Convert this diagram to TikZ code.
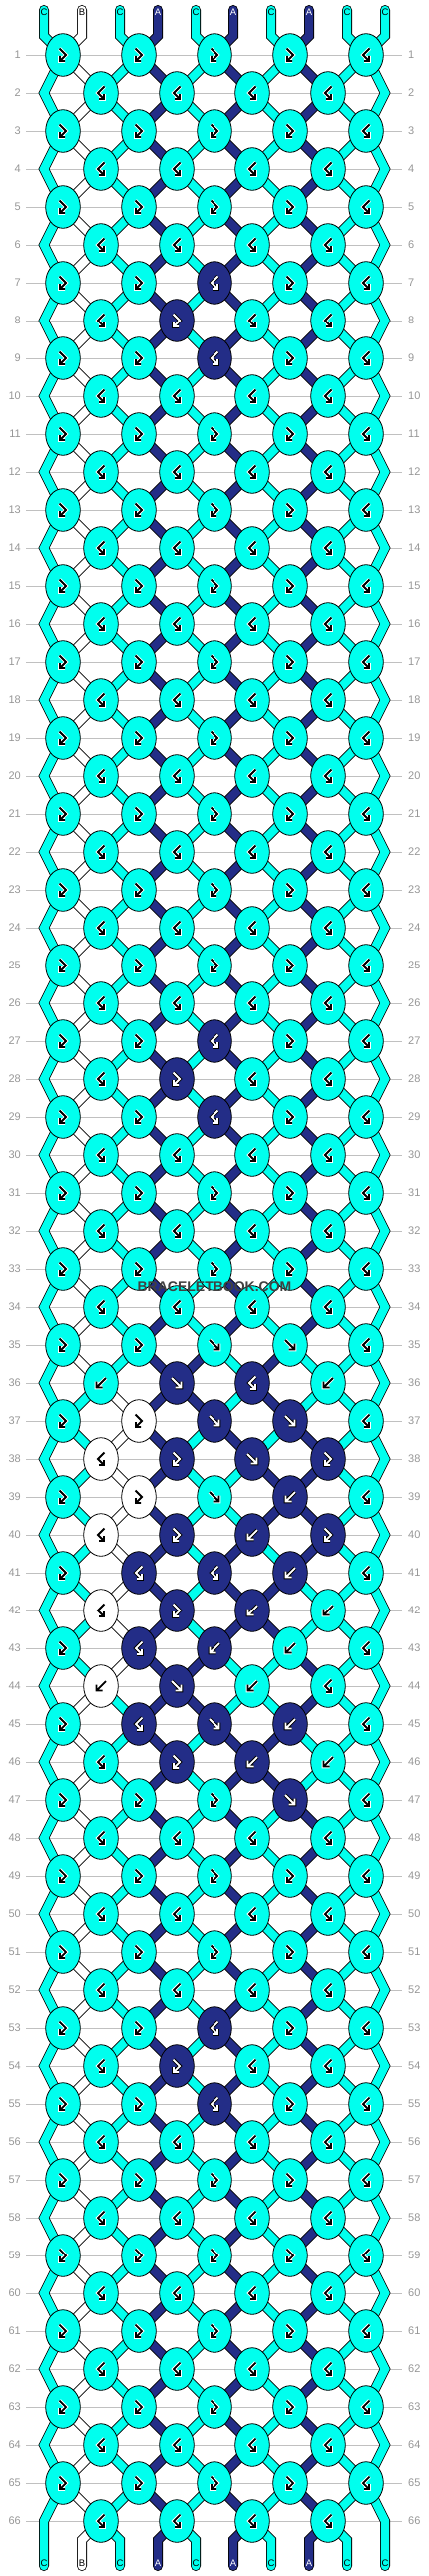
\documentclass[tikz,border=0pt]{standalone}
\usepackage{fontspec}
\setsansfont{Liberation Sans}
\usetikzlibrary{shapes.geometric}

\definecolor{colA}{RGB}{35,45,135}
\definecolor{colB}{RGB}{255,255,255}
\definecolor{colC}{RGB}{0,255,238}
\colorlet{inkA}{white}\colorlet{inkB}{black}\colorlet{inkC}{black}
\colorlet{rimA}{black}\colorlet{rimB}{white}\colorlet{rimC}{white}
\definecolor{rowgray}{RGB}{192,192,192}
\definecolor{numgray}{RGB}{150,150,150}

\pgfdeclarelayer{back}
\pgfdeclarelayer{mid}
\pgfsetlayers{back,mid,main}

% knot types: f forward, b backward, r forward-backward, l backward-forward
\newcommand\setrow[2]{\expandafter\def\csname spec#1\endcsname{#2}}
\setrow{7}{r,r,l,r,l}\setrow{8}{l,r,l,l}\setrow{9}{r,r,l,r,l}
\setrow{27}{r,r,l,r,l}\setrow{28}{l,r,l,l}\setrow{29}{r,r,l,r,l}
\setrow{35}{r,r,f,f,l}\setrow{36}{b,f,l,b}
\setrow{37}{r,r,f,f,l}\setrow{38}{l,r,f,r}
\setrow{39}{r,r,f,b,l}\setrow{40}{l,r,b,r}
\setrow{41}{r,l,l,b,l}\setrow{42}{l,r,b,b}
\setrow{43}{r,l,b,b,l}\setrow{44}{b,f,b,l}
\setrow{45}{r,l,f,b,l}\setrow{46}{l,r,b,b}
\setrow{47}{r,r,r,f,l}
\setrow{53}{r,r,l,r,l}\setrow{54}{l,r,l,l}\setrow{55}{r,r,l,r,l}

\def\glyphf{(-5,-5) -- (4.5,4.5) (4.5,-1.5) -- (4.5,4.5) -- (-1.5,4.5)}
\def\glyphb{(5,-5) -- (-4.5,4.5) (-4.5,-1.5) -- (-4.5,4.5) -- (1.5,4.5)}
\def\glyphr{(-3.5,-6.5) -- (3,0) -- (-3,6) (-3,1) -- (-3,6) -- (2,6)}
\def\glyphl{(3.5,-6.5) -- (-3,0) -- (3,6) (3,1) -- (3,6) -- (-2,6)}

\begin{document}
\begin{tikzpicture}[
  x=1pt, y=-1pt,
  knot/.style = {ellipse, draw, line width=0.8pt, minimum width=34.6pt,
                 minimum height=42.6pt, inner sep=0pt},
  strand/.style = {draw=black, line width=0.8pt, double=#1,
                   double distance=8.4pt, line cap=round},
  rowline/.style = {rowgray, line width=0.8pt},
  rownum/.style = {numgray, inner sep=0pt, font=\sffamily\fontsize{11}{11}\selectfont},
  endlabel/.style = {inner sep=0pt, font=\sffamily\fontsize{9.5}{9.5}\selectfont},
  glyphrim/.style = {line width=3.6pt},
  glyphink/.style = {line width=1.8pt}
]
\useasboundingbox (0,0) rectangle (430,2580);

% knotting, row by row
\foreach \c [count=\pos from 0] in {C,B,C,A,C,A,C,A,C,C}
  {\expandafter\xdef\csname st-0-\pos\endcsname{\c}}
\foreach \row in {1,...,66}{
  \pgfmathtruncatemacro\rp{\row-1}
  \foreach \pos in {0,...,9}
    {\expandafter\xdef\csname st-\row-\pos\endcsname{\csname st-\rp-\pos\endcsname}}
  \ifcsname spec\row\endcsname
    \edef\types{\csname spec\row\endcsname}
  \else\ifodd\row \def\types{r,r,r,r,l}\else \def\types{l,l,l,l}\fi\fi
  \ifodd\row \def\pfirst{0}\else \def\pfirst{1}\fi
  \foreach \ty [count=\kn from 0] in \types {
    \pgfmathtruncatemacro\pl{\pfirst+2*\kn}
    \pgfmathtruncatemacro\pq{\pl+1}
    \edef\colL{\csname st-\rp-\pl\endcsname}
    \edef\colR{\csname st-\rp-\pq\endcsname}
    \expandafter\xdef\csname kt-\row-\kn\endcsname{\ty}
    \if\ty f
      \expandafter\xdef\csname kc-\row-\kn\endcsname{\colL}
      \expandafter\xdef\csname st-\row-\pl\endcsname{\colR}
      \expandafter\xdef\csname st-\row-\pq\endcsname{\colL}
    \fi
    \if\ty b
      \expandafter\xdef\csname kc-\row-\kn\endcsname{\colR}
      \expandafter\xdef\csname st-\row-\pl\endcsname{\colR}
      \expandafter\xdef\csname st-\row-\pq\endcsname{\colL}
    \fi
    \if\ty r \expandafter\xdef\csname kc-\row-\kn\endcsname{\colL}\fi
    \if\ty l \expandafter\xdef\csname kc-\row-\kn\endcsname{\colR}\fi
  }
}

% rows
\begin{pgfonlayer}{back}
\foreach \row in {1,...,66}{
  \pgfmathsetmacro\yy{17+38*\row}
  \draw[rowline] (26,\yy) -- (403,\yy);
}
\end{pgfonlayer}
\foreach \row in {1,...,66}{
  \pgfmathsetmacro\yy{17+38*\row}
  \node[rownum, anchor=east] (nl-\row) at (21,\yy) {\row};
  \node[rownum, anchor=west] (nr-\row) at (409,\yy) {\row};
}

% knots
\foreach \row in {1,...,66}{
  \pgfmathsetmacro\yy{17+38*\row}
  \ifodd\row \def\nk{4}\def\xo{63}\else \def\nk{3}\def\xo{101}\fi
  \foreach \kn in {0,...,\nk}{
    \edef\kc{\csname kc-\row-\kn\endcsname}
    \edef\gpath{\csname glyph\csname kt-\row-\kn\endcsname\endcsname}
    \node[knot, fill=col\kc] (k-\row-\kn) at ({\xo+76*\kn},\yy) {};
    \draw[glyphrim, draw=rim\kc, shift={(k-\row-\kn.center)}] \gpath;
    \draw[glyphink, draw=ink\kc, shift={(k-\row-\kn.center)}] \gpath;
  }
}

% loose ends and edge bends
\foreach \pos in {0,...,9}{
  \coordinate (t-\pos) at (44+38*\pos,10);
  \coordinate (tb-\pos) at (44+38*\pos,36);
  \coordinate (b-\pos) at (44+38*\pos,2570);
  \coordinate (bb-\pos) at (44+38*\pos,2544);
}
\foreach \row in {2,4,...,66}{
  \coordinate (e-\row-L) at (44,17+38*\row);
  \coordinate (e-\row-R) at (386,17+38*\row);
}

\begin{pgfonlayer}{mid}
\foreach \pos in {0,...,9}{
  \pgfmathtruncatemacro\kn{\pos/2}
  \edef\sc{\csname st-0-\pos\endcsname}
  \draw[strand=col\sc] (t-\pos) -- (tb-\pos) -- (k-1-\kn.center);
}
\foreach \row in {1,3,...,65}{
  \pgfmathtruncatemacro\rn{\row+1}
  \pgfmathtruncatemacro\rnn{\row+2}
  \ifnum\row<65 \edef\nextL{k-\rnn-0.center}\edef\nextR{k-\rnn-4.center}
  \else \def\nextL{b-0}\def\nextR{b-9}\fi
  \edef\cl{\csname st-\row-0\endcsname}
  \draw[strand=col\cl] (k-\row-0.center) -- (e-\rn-L) -- (\nextL);
  \edef\cq{\csname st-\row-9\endcsname}
  \draw[strand=col\cq] (k-\row-4.center) -- (e-\rn-R) -- (\nextR);
  \foreach \kn in {1,...,4}{
    \pgfmathtruncatemacro\pl{2*\kn}
    \pgfmathtruncatemacro\kp{\kn-1}
    \edef\cl{\csname st-\row-\pl\endcsname}
    \draw[strand=col\cl] (k-\row-\kn.center) -- (k-\rn-\kp.center);
  }
  \foreach \kn in {0,...,3}{
    \pgfmathtruncatemacro\pq{2*\kn+1}
    \edef\cq{\csname st-\row-\pq\endcsname}
    \draw[strand=col\cq] (k-\row-\kn.center) -- (k-\rn-\kn.center);
  }
}
\foreach \row in {2,4,...,64}{
  \pgfmathtruncatemacro\rn{\row+1}
  \foreach \kn in {0,...,3}{
    \pgfmathtruncatemacro\pl{2*\kn+1}
    \pgfmathtruncatemacro\pq{2*\kn+2}
    \pgfmathtruncatemacro\kq{\kn+1}
    \edef\cl{\csname st-\row-\pl\endcsname}
    \edef\cq{\csname st-\row-\pq\endcsname}
    \draw[strand=col\cl] (k-\row-\kn.center) -- (k-\rn-\kn.center);
    \draw[strand=col\cq] (k-\row-\kn.center) -- (k-\rn-\kq.center);
  }
}
\foreach \kn in {0,...,3}{
  \pgfmathtruncatemacro\pl{2*\kn+1}
  \pgfmathtruncatemacro\pq{2*\kn+2}
  \edef\cl{\csname st-66-\pl\endcsname}
  \edef\cq{\csname st-66-\pq\endcsname}
  \draw[strand=col\cl] (k-66-\kn.center) -- (bb-\pl) -- (b-\pl);
  \draw[strand=col\cq] (k-66-\kn.center) -- (bb-\pq) -- (b-\pq);
}
\end{pgfonlayer}

% string letters
\foreach \pos in {0,...,9}{
  \edef\sc{\csname st-0-\pos\endcsname}
  \edef\ec{\csname st-66-\pos\endcsname}
  \node[endlabel, text=ink\sc] (tl-\pos) at (44+38*\pos,12) {\sc};
  \node[endlabel, text=ink\ec] (bl-\pos) at (44+38*\pos,2567) {\ec};
}

\node[font=\sffamily\bfseries\fontsize{14}{14}\selectfont, text=black!75,
      inner sep=0pt] (mark) at (215,1289) {BRACELETBOOK.COM};

\end{tikzpicture}
\end{document}
